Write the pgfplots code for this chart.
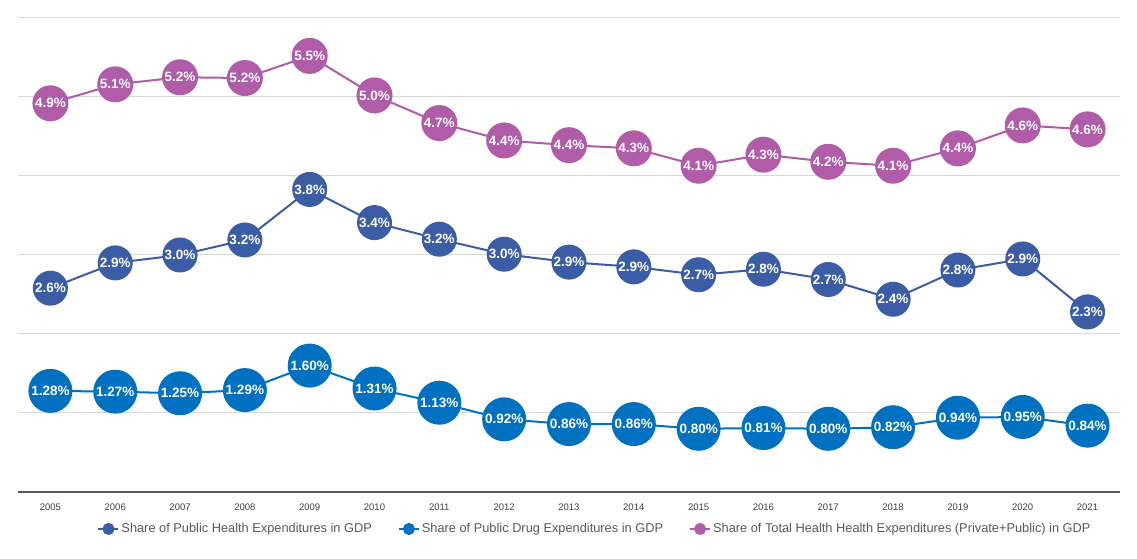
\documentclass[border=0pt]{standalone}
\usepackage{pgfplots}
\pgfplotsset{compat=1.18}
\usepackage{fontspec}
\setmainfont{Liberation Sans}
\definecolor{pubH}{HTML}{3B5DA5}
\definecolor{drug}{HTML}{0070C0}
\definecolor{totH}{HTML}{B05CA8}
\definecolor{gridc}{HTML}{D9D9D9}
\definecolor{axc}{HTML}{595959}
\definecolor{legc}{HTML}{595959}

\begin{document}
\begin{tikzpicture}
\begin{axis}[
  scale only axis,
  width=1102pt, height=474pt,
  xmin=2004.5, xmax=2021.5,
  ymin=0, ymax=6,
  axis x line*=bottom, axis y line*=left,
  x axis line style={draw=axc, line width=1.2pt},
  y axis line style={draw=none},
  xtick={2005,...,2021},
  ytick={0,...,6}, yticklabels={},
  major tick length=0pt,
  ymajorgrids,
  grid style={draw=gridc, line width=1pt},
  xticklabel style={font=\fontsize{9.5}{10}\selectfont, text=black!75, yshift=-8pt},
  /pgf/number format/assume math mode=true,
  /pgf/number format/1000 sep={},
  clip=false,
  point meta=explicit symbolic,
  nodes near coords,
  every node near coord/.append style={anchor=center, text=white,
    font=\fontsize{13.5}{15}\selectfont\bfseries, inner sep=0pt},
  legend style={at={(0.5236,-0.078)}, anchor=center, draw=none,
    legend columns=3, font=\fontsize{12.8}{15}\selectfont, text=legc,
    /tikz/every even column/.append style={column sep=24pt}},
]

% public health expenditures
\addplot[pubH, line width=2pt, mark=*, mark size=16.5pt,
  mark options={fill=pubH, draw=pubH},
  legend image code/.code={\draw[pubH, line width=2pt] (0pt,0pt) -- (20pt,0pt);
    \fill[pubH] (10pt,0pt) circle (5pt);}]
coordinates {
  (2005,2.58) [2.6\%]
  (2006,2.90) [2.9\%]
  (2007,3.00) [3.0\%]
  (2008,3.19) [3.2\%]
  (2009,3.83) [3.8\%]
  (2010,3.41) [3.4\%]
  (2011,3.20) [3.2\%]
  (2012,3.01) [3.0\%]
  (2013,2.91) [2.9\%]
  (2014,2.85) [2.9\%]
  (2015,2.75) [2.7\%]
  (2016,2.82) [2.8\%]
  (2017,2.69) [2.7\%]
  (2018,2.44) [2.4\%]
  (2019,2.81) [2.8\%]
  (2020,2.95) [2.9\%]
  (2021,2.28) [2.3\%]
};
\addlegendentry{Share of Public Health Expenditures in GDP}

% public drug expenditures
\addplot[drug, line width=2pt, mark=*, mark size=21pt,
  mark options={fill=drug, draw=drug},
  legend image code/.code={\draw[drug, line width=2pt] (0pt,0pt) -- (20pt,0pt);
    \fill[drug] (10pt,0pt) circle (5pt);}]
coordinates {
  (2005,1.28) [1.28\%]
  (2006,1.27) [1.27\%]
  (2007,1.25) [1.25\%]
  (2008,1.29) [1.29\%]
  (2009,1.60) [1.60\%]
  (2010,1.31) [1.31\%]
  (2011,1.13) [1.13\%]
  (2012,0.92) [0.92\%]
  (2013,0.86) [0.86\%]
  (2014,0.86) [0.86\%]
  (2015,0.80) [0.80\%]
  (2016,0.81) [0.81\%]
  (2017,0.80) [0.80\%]
  (2018,0.82) [0.82\%]
  (2019,0.94) [0.94\%]
  (2020,0.95) [0.95\%]
  (2021,0.84) [0.84\%]
};
\addlegendentry{Share of Public Drug Expenditures in GDP}

% total health expenditures
\addplot[totH, line width=2pt, mark=*, mark size=17pt,
  mark options={fill=totH, draw=totH},
  legend image code/.code={\draw[totH, line width=2pt] (0pt,0pt) -- (20pt,0pt);
    \fill[totH] (10pt,0pt) circle (5pt);}]
coordinates {
  (2005,4.92) [4.9\%]
  (2006,5.16) [5.1\%]
  (2007,5.25) [5.2\%]
  (2008,5.24) [5.2\%]
  (2009,5.52) [5.5\%]
  (2010,5.02) [5.0\%]
  (2011,4.67) [4.7\%]
  (2012,4.45) [4.4\%]
  (2013,4.39) [4.4\%]
  (2014,4.35) [4.3\%]
  (2015,4.13) [4.1\%]
  (2016,4.27) [4.3\%]
  (2017,4.18) [4.2\%]
  (2018,4.13) [4.1\%]
  (2019,4.35) [4.4\%]
  (2020,4.64) [4.6\%]
  (2021,4.59) [4.6\%]
};
\addlegendentry{Share of Total Health Health Expenditures (Private+Public) in GDP}

\end{axis}
\path[use as bounding box] (-18pt,-67pt) rectangle (1119pt,492pt);
\end{tikzpicture}
\end{document}
